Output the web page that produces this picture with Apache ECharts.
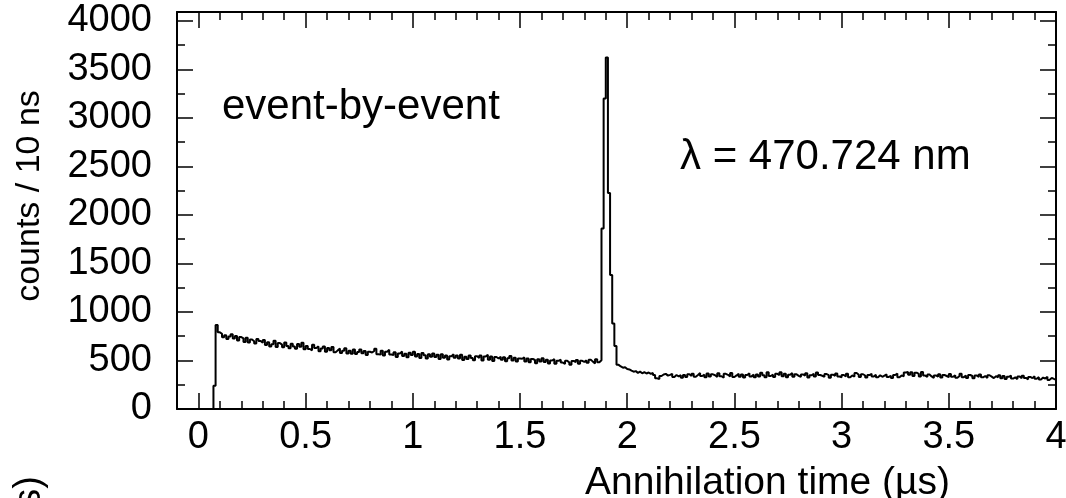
<!DOCTYPE html>
<html>
<head>
<meta charset="utf-8">
<script src="https://cdn.jsdelivr.net/npm/echarts@6/dist/echarts.min.js"></script>
<style>
html,body{margin:0;padding:0;background:#fff;}
#chart{width:1066px;height:498px;}
</style>
</head>
<body>
<div id="chart"></div>
<script>
// Histogram: 10 ns bins from -0.1 to 4.0 µs
const binStart = -0.1;
const binWidth = 0.01;
const counts = [
  0,0,0,0,0,0,0,0,0,0, 0,0,0,0,0,0,0,
  240, 865, 790,
  775,738,760,722,748,770,726,752,705,741,
  728,690,735,684,716,698,676,722,700,683,
  712,660,688,645,668,702,640,679,663,636,
  686,650,625,673,645,620,669,641,682,615,
  650,618,604,662,629,645,596,622,643,590,
  628,606,638,584,604,622,578,600,625,572,
  600,570,612,566,588,614,575,597,556,590,
  582,598,620,565,560,601,552,590,610,562,
  555,585,535,572,592,545,568,532,580,556,
  590,540,566,526,578,555,520,565,538,572,
  536,560,514,565,528,552,510,544,564,527,
  552,520,558,506,538,515,550,526,503,544,
  526,550,500,540,560,508,542,495,536,520,
  538,508,532,492,522,546,500,528,490,520,
  518,532,490,520,482,515,505,472,512,490,
  522,484,508,470,500,515,465,496,508,478,
  464,498,478,455,495,482,506,466,496,486,
  500,476,508,488,470,512,482,502,
  1860,3200,3620,2225,1380,880,650,
  455,438,426,431,412,
  408,395,384,390,372,385,368,380,366,376,
  362,371,350,316,308,340,355,362,344,352,
  362,330,350,335,348,322,351,330,358,340,
  362,332,350,370,340,354,326,366,335,357,
  348,330,368,338,322,362,352,334,372,330,
  346,364,332,356,324,350,368,336,354,328,
  356,334,374,348,326,378,340,354,330,362,
  350,378,338,362,326,352,372,332,357,342,
  330,356,344,368,324,348,362,336,376,350,
  342,332,360,348,322,354,342,366,334,328,
  350,336,364,326,346,334,370,352,330,358,
  345,324,350,362,334,354,328,348,332,344,
  356,330,342,320,350,366,326,346,338,376,
  382,352,378,340,374,362,334,380,344,330,
  356,336,320,346,332,358,324,350,340,328,
  360,332,348,322,340,364,328,344,320,350,
  340,318,346,330,356,326,340,320,348,334,
  318,338,326,348,318,340,310,332,344,314,
  326,308,336,316,342,320,306,330,318,338,
  312,328,304,324,314,332,300,320,310,302
];
const xMajorTicks = [0,0.5,1,1.5,2,2.5,3,3.5,4];
const xMinorTicks = [-0.1,0,0.1,0.2,0.3,0.4,0.5,0.6,0.7,0.8,0.9,1,1.1,1.2,1.3,1.4,1.5,1.6,1.7,1.8,1.9,2,2.1,2.2,2.3,2.4,2.5,2.6,2.7,2.8,2.9,3,3.1,3.2,3.3,3.4,3.5,3.6,3.7,3.8,3.9,4];
const yMajorTicks = [0,500,1000,1500,2000,2500,3000,3500,4000];
const yMinorTicks = [0,250,500,750,1000,1250,1500,1750,2000,2250,2500,2750,3000,3250,3500,3750,4000];
const xMin = -0.1, xMax = 4.0, yMin = 0, yMax = 4090;
const xTitle = 'Annihilation time (\u00b5s)';
const yTitle = 'counts / 10 ns';
const label1 = 'event-by-event';
const label2 = '\u03bb = 470.724 nm';
const clipped = '(\u00b5s)';

const data = counts.map((c, i) => [binStart + i * binWidth, c]);
data.push([binStart + counts.length * binWidth, counts[counts.length - 1]]);

const FONT = 'Liberation Sans, Arial, sans-serif';
const lineStyle = {color: '#000', width: 2};
const fmt = v => String(Math.round(v * 100) / 100);

function xAxisDef(pos, ticks, len, showLabel, showLine) {
  return {
    type: 'value', position: pos, min: xMin, max: xMax, gridIndex: 0,
    axisLine: {show: showLine, onZero: false, lineStyle: lineStyle},
    axisTick: {show: true, inside: true, length: len, customValues: ticks, lineStyle: {color: '#000', width: 1.5}},
    axisLabel: showLabel ? {show: true, customValues: ticks, formatter: fmt, color: '#000', fontSize: 38, fontFamily: FONT, margin: 10} : {show: false},
    splitLine: {show: false}
  };
}
function yAxisDef(pos, ticks, len, showLabel, showLine) {
  return {
    type: 'value', position: pos, min: yMin, max: yMax, gridIndex: 0,
    axisLine: {show: showLine, onZero: false, lineStyle: lineStyle},
    axisTick: {show: true, inside: true, length: len, customValues: ticks, lineStyle: {color: '#000', width: 1.5}},
    axisLabel: showLabel ? {show: true, customValues: ticks, formatter: fmt, color: '#000', fontSize: 38, fontFamily: FONT, margin: 25} : {show: false},
    splitLine: {show: false}
  };
}

const chart = echarts.init(document.getElementById('chart'), null, {renderer: 'canvas'});
chart.setOption({
  animation: false,
  backgroundColor: '#fff',
  grid: {left: 177, top: 12, right: 10, bottom: 89, containLabel: false, outerBoundsMode: 'none'},
  xAxis: [
    xAxisDef('bottom', xMajorTicks, 16, true, true),
    xAxisDef('bottom', xMinorTicks, 8, false, false),
    xAxisDef('top', xMajorTicks, 16, false, true),
    xAxisDef('top', xMinorTicks, 8, false, false)
  ],
  yAxis: [
    yAxisDef('left', yMajorTicks, 16, true, true),
    yAxisDef('left', yMinorTicks, 8, false, false),
    yAxisDef('right', yMajorTicks, 16, false, true),
    yAxisDef('right', yMinorTicks, 8, false, false)
  ],
  series: [{
    type: 'line', xAxisIndex: 0, yAxisIndex: 0, step: 'end',
    data: data, symbol: 'none', showSymbol: false,
    lineStyle: {color: '#000', width: 2}, clip: true
  }],
  graphic: [
    {type: 'text', x: 950, y: 483, style: {text: xTitle, font: '39px ' + FONT, fill: '#000', align: 'right', verticalAlign: 'middle'}},
    {type: 'text', x: 30, y: 196, rotation: Math.PI / 2, style: {text: yTitle, font: '34px ' + FONT, fill: '#000', align: 'center', verticalAlign: 'middle'}},
    {type: 'text', x: 222, y: 107, style: {text: label1, font: '42px ' + FONT, fill: '#000', align: 'left', verticalAlign: 'middle'}},
    {type: 'text', x: 680, y: 157, style: {text: label2, font: '42px ' + FONT, fill: '#000', align: 'left', verticalAlign: 'middle'}},
    {type: 'text', x: 30, y: 476, rotation: Math.PI / 2, style: {text: clipped, font: '38px ' + FONT, fill: '#000', align: 'right', verticalAlign: 'middle'}}
  ]
});
</script>
</body>
</html>
